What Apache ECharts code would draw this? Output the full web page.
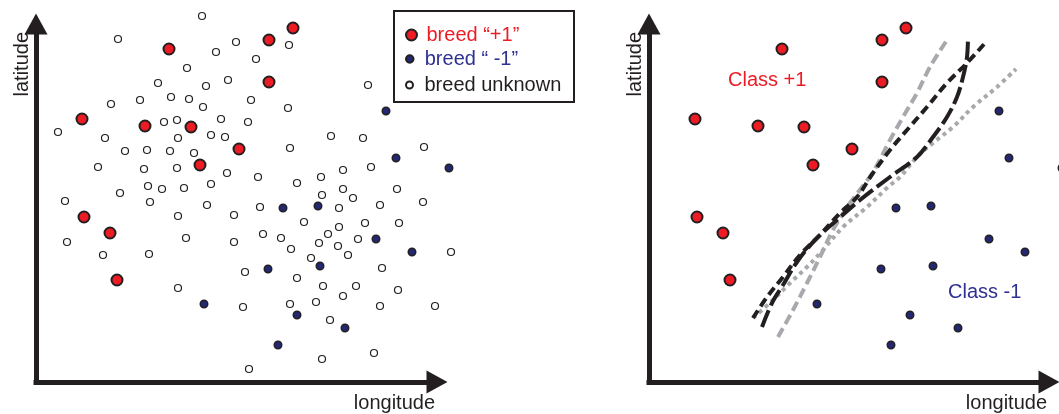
<!DOCTYPE html>
<html>
<head>
<meta charset="utf-8">
<script src="https://cdn.jsdelivr.net/npm/echarts@6/dist/echarts.min.js"></script>
<style>
html,body{margin:0;padding:0;background:#fff;}
#chart{width:1059px;height:414px;}
</style>
</head>
<body>
<div id="chart"></div>
<script>
// ---- data (longitude, latitude), units measured from the axis origin ----
const unknownBreed = [
  [166,366],[82,343],[200,340],[180,330],[253,337],[220,323],[151,314],[122,299],[170,296],[192,302],
  [215,282],[252,274],[75,278],[104,282],[135,285],[153,283],[167,275],[22,250],[128,260],[141,262],
  [185,263],[212,260],[69,244],[142,244],[175,247],[189,245],[254,234],[89,231],[111,232],[134,231],
  [158,229],[62,215],[108,213],[141,214],[191,209],[222,205],[261,199],[112,196],[126,193],[148,194],
  [175,198],[84,189],[29,181],[114,180],[171,177],[224,175],[142,166],[198,167],[31,140],[150,144],
  [198,140],[227,148],[245,144],[255,133],[67,127],[113,128],[209,110],[261,104],[142,94],[207,75],
  [254,78],[213,13],[332,297],[295,246],[327,244],[388,235],[307,212],[335,215],[285,205],[286,187],
  [307,193],[317,184],[361,193],[344,177],[387,180],[303,174],[268,160],[303,155],[329,159],[363,159],
  [292,148],[283,139],[302,136],[322,143],[275,124],[312,127],[346,114],[415,130],[287,96],[320,96],
  [362,92],[307,86],[280,80],[344,76],[399,76],[294,62],[338,29],[286,23]
];
const breedPlus = [
  [257,354],[233,342],[133,333],[233,300],[46,263],[109,256],[155,255],[203,233],[164,217],[48,165],
  [74,149],[81,102]
];
const breedMinus = [
  [350,271],[360,224],[413,214],[247,174],[282,176],[340,143],[376,130],[232,113],[284,116],[168,78],
  [261,67],[309,54],[242,37]
];
// decision boundaries (right panel)
const boundaryGrayDashed = [
  [129,45],[144,72],[158,99],[171,125],[184,152],[201,179],[224,210],[241,242],[254,265],[268,289],[281,315],[298,342]
];
const boundaryBlackDashed = [
  [104,64],[118,85],[134,105],[151,127],[171,147],[191,169],[208,185],[224,209],[241,232],[258,252],[278,275],[298,299],[318,319],[337,340]
];
const boundaryBlackLongDash = [
  [113,55],[123,79],[134,97],[148,120],[166,142],[188,162],[211,182],[241,205],[268,225],[284,245],[298,265],[308,285],[314,305],[318,325],[319,345]
];
const boundaryGrayDotted = [
  [104,64],[124,82],[141,99],[158,115],[174,132],[194,155],[218,175],[239,195],[251,205],[268,225],[284,239],[304,255],[324,275],[348,295],[367,313]
];
const seriesNames = ['breed “+1”', 'breed “ -1”', 'breed unknown'];
const classNames = ['Class +1', 'Class -1'];
const axisNames = { x: 'longitude', y: 'latitude' };

// ---- styles ----
const RED = '#ed1c24', BLUE = '#2e3192', BLUEFILL = '#232873', INK = '#231f20', GRAY = '#a7a9ac';
const FONT = '"Liberation Sans", Arial, Helvetica, sans-serif';

function xAxisCfg(gi, max) {
  return {
    type: 'value', gridIndex: gi, min: 0, max: max,
    axisLine: { show: true, symbol: ['none', 'triangle'], symbolSize: [23, 21],
      lineStyle: { color: INK, width: 5, cap: 'square' } },
    axisTick: { show: false }, axisLabel: { show: false }, splitLine: { show: false },
    name: axisNames.x, nameLocation: 'end', nameGap: -2, nameMoveOverlap: false,
    nameTextStyle: { fontFamily: FONT, fontSize: 20, color: INK, align: 'right', verticalAlign: 'top', padding: [11, 0, 0, 0] }
  };
}
function yAxisCfg(gi, max) {
  return {
    type: 'value', gridIndex: gi, min: 0, max: max,
    axisLine: { show: true, symbol: ['none', 'triangle'], symbolSize: [23, 21],
      lineStyle: { color: INK, width: 5, cap: 'square' } },
    axisTick: { show: false }, axisLabel: { show: false }, splitLine: { show: false },
    name: axisNames.y, nameLocation: 'end', nameGap: -8, nameRotate: 90, nameMoveOverlap: false,
    nameTextStyle: { fontFamily: FONT, fontSize: 20, color: INK, align: 'right', verticalAlign: 'bottom', padding: [0, 0, 4, 0] }
  };
}
const plusStyle = { color: RED, borderColor: INK, borderWidth: 2, opacity: 1 };
const minusStyle = { color: BLUEFILL, borderColor: INK, borderWidth: 1.5, opacity: 1 };
const unkStyle = { color: '#ffffff', borderColor: INK, borderWidth: 1.2, opacity: 1 };

function lineSeries(name, data, color, dash) {
  return {
    name: name, type: 'line', xAxisIndex: 1, yAxisIndex: 1, data: data,
    showSymbol: false, smooth: 0.35, clip: false, z: 3,
    lineStyle: { color: color, width: 4, type: dash, opacity: 1 }
  };
}
function legendCfg(name, top, h, color) {
  return {
    data: [name], left: 405, top: top, orient: 'vertical', padding: 0,
    itemWidth: 20, itemHeight: h, selectedMode: false,
    textStyle: { fontFamily: FONT, fontSize: 20, color: color }
  };
}

const chart = echarts.init(document.getElementById('chart'), null, { renderer: 'canvas' });
chart.setOption({
  animation: false,
  backgroundColor: '#ffffff',
  grid: [
    { left: 36, top: 24, width: 401, height: 358, outerBoundsMode: 'none' },
    { left: 649, top: 24, width: 400, height: 358, outerBoundsMode: 'none' }
  ],
  xAxis: [xAxisCfg(0, 401), xAxisCfg(1, 400)],
  yAxis: [yAxisCfg(0, 358), yAxisCfg(1, 358)],
  legend: [
    legendCfg(seriesNames[0], 25, 11, RED),
    legendCfg(seriesNames[1], 49, 7.5, BLUE),
    legendCfg(seriesNames[2], 75, 7, INK)
  ],
  graphic: [
    { type: 'rect', shape: { x: 394, y: 11, width: 180, height: 91 }, style: { fill: 'none', stroke: INK, lineWidth: 2 }, z: 10 },
    { type: 'text', left: 728, top: 70, style: { text: classNames[0], fill: RED, font: '20px ' + FONT } },
    { type: 'text', left: 948, top: 282, style: { text: classNames[1], fill: BLUE, font: '20px ' + FONT } }
  ],
  series: [
    { name: seriesNames[2], type: 'scatter', xAxisIndex: 0, yAxisIndex: 0, data: unknownBreed, symbolSize: 7, itemStyle: unkStyle, clip: false, z: 2 },
    { name: seriesNames[1], type: 'scatter', xAxisIndex: 0, yAxisIndex: 0, data: breedMinus, symbolSize: 7.5, itemStyle: minusStyle, clip: false, z: 3 },
    { name: seriesNames[0], type: 'scatter', xAxisIndex: 0, yAxisIndex: 0, data: breedPlus, symbolSize: 11, itemStyle: plusStyle, clip: false, z: 4 },
    { name: classNames[1], type: 'scatter', xAxisIndex: 1, yAxisIndex: 1, data: breedMinus, symbolSize: 7.5, itemStyle: minusStyle, clip: false, z: 4 },
    { name: classNames[0], type: 'scatter', xAxisIndex: 1, yAxisIndex: 1, data: breedPlus, symbolSize: 11, itemStyle: plusStyle, clip: false, z: 4 },
    lineSeries('boundary A', boundaryGrayDashed, GRAY, [10, 5]),
    lineSeries('boundary B', boundaryGrayDotted, GRAY, [4, 4]),
    lineSeries('boundary C', boundaryBlackDashed, INK, [9, 5]),
    lineSeries('boundary D', boundaryBlackLongDash, INK, [18, 5])
  ]
});
</script>
</body>
</html>
